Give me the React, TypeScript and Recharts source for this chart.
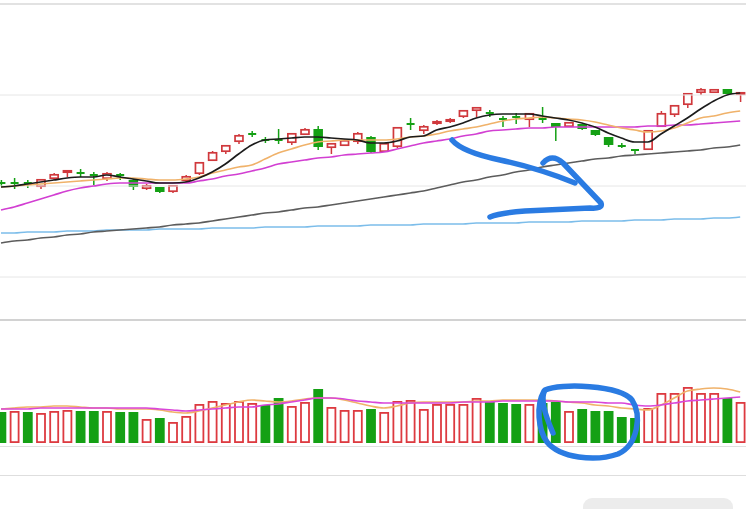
import React from "react";
import { ComposedChart, Bar, Line, XAxis, YAxis, ReferenceLine } from "recharts";

// ---- data (price units, index = trading day) ----
const open = [21.7,21.7,21.7,21.3,22.1,22.7,22.7,22.5,22.1,22.5,22.0,21.1,21.3,20.8,21.9,22.6,23.9,24.8,25.8,26.6,26.0,26.0,25.7,26.5,27.1,25.2,25.4,25.8,26.3,24.8,25.3,27.6,26.9,27.6,27.8,28.3,28.9,28.7,28.1,28.3,28.0,28.1,27.7,27.3,27.6,27.0,26.3,25.4,25.0,25.0,27.3,28.5,29.5,30.7,30.7,31.1,30.5];
const close = [21.7,21.7,21.7,22.1,22.6,23.0,22.7,22.5,22.7,22.5,21.3,21.5,20.8,21.5,22.4,23.8,24.8,25.5,26.5,26.6,26.0,26.0,26.7,27.1,25.3,25.7,26.0,26.7,24.8,25.7,27.3,27.6,27.4,27.9,28.1,29.0,29.3,28.7,28.1,28.3,28.7,28.1,27.3,27.8,27.1,26.5,25.5,25.4,25.0,27.0,28.7,29.5,30.7,31.1,31.1,30.6,30.8];
const high = [22.0,22.2,22.0,22.1,22.7,23.0,23.1,22.8,22.8,22.7,22.1,21.6,21.3,21.5,22.5,23.8,24.9,25.5,26.6,26.9,26.3,27.1,26.7,27.2,27.4,25.7,26.1,26.8,26.4,25.7,27.3,28.2,27.5,28.0,28.2,29.0,29.3,29.0,28.4,28.7,28.7,29.3,27.7,27.8,27.6,27.0,26.3,25.7,25.0,27.0,28.9,29.5,30.7,31.2,31.1,31.1,30.8];
const low = [21.4,21.1,21.2,21.1,22.0,22.3,22.3,21.5,21.9,22.0,21.0,21.0,20.7,20.7,21.8,22.5,23.9,24.6,25.6,26.3,25.7,25.6,25.5,26.5,25.0,24.6,25.4,25.6,24.7,24.8,25.2,27.0,26.6,27.5,27.7,28.2,28.3,28.3,27.3,27.6,27.3,27.7,25.9,27.3,27.0,26.4,25.3,25.2,24.6,25.0,27.3,28.3,29.2,30.5,30.7,30.6,29.8];

const ma5 = [21.3,21.4,21.6,21.8,22.0,22.2,22.3,22.3,22.5,22.3,22.1,21.9,21.7,21.7,21.8,22.2,22.8,23.6,24.6,25.5,26.0,26.1,26.2,26.3,26.3,26.2,26.1,26.0,25.7,25.7,25.9,26.3,26.4,27.0,27.3,27.7,28.2,28.5,28.6,28.6,28.6,28.4,28.2,28.0,27.7,27.3,26.7,26.2,25.8,25.8,26.6,27.4,28.2,29.1,29.9,30.5,30.7];
const ma10 = [21.3,21.4,21.5,21.6,21.7,21.8,21.9,22.0,22.1,22.2,22.2,22.1,22.0,22.0,22.1,22.3,22.7,23.0,23.3,23.5,24.1,24.7,25.1,25.5,25.8,25.9,26.0,26.0,26.0,26.0,26.1,26.3,26.4,26.6,26.9,27.1,27.3,27.6,27.9,28.1,28.2,28.3,28.2,28.1,28.0,27.8,27.5,27.2,27.0,26.8,26.9,27.2,27.7,28.2,28.4,28.7,28.9];
const ma20 = [19.0,19.3,19.7,20.1,20.5,20.9,21.2,21.4,21.6,21.7,21.7,21.7,21.7,21.7,21.7,21.9,22.1,22.4,22.6,22.9,23.2,23.6,23.8,24.0,24.2,24.3,24.5,24.6,24.7,24.8,25.1,25.4,25.7,25.9,26.1,26.4,26.6,26.9,27.0,27.1,27.2,27.2,27.3,27.3,27.3,27.3,27.3,27.3,27.3,27.4,27.4,27.5,27.5,27.6,27.7,27.8,27.9];
const ma60 = [15.7,15.9,16.0,16.2,16.3,16.5,16.6,16.8,16.9,17.0,17.1,17.2,17.3,17.5,17.6,17.7,17.9,18.1,18.3,18.5,18.7,18.8,19.0,19.2,19.3,19.5,19.7,19.9,20.1,20.3,20.5,20.7,20.9,21.2,21.5,21.8,22.0,22.3,22.5,22.8,23.0,23.3,23.5,23.7,23.9,24.1,24.2,24.4,24.5,24.6,24.7,24.8,24.9,25.0,25.2,25.3,25.5];
const ma120 = [16.7,16.7,16.8,16.8,16.8,16.9,16.9,16.9,17.0,17.0,17.0,17.0,17.1,17.1,17.1,17.1,17.2,17.2,17.2,17.2,17.3,17.3,17.3,17.3,17.4,17.4,17.4,17.4,17.5,17.5,17.5,17.5,17.6,17.6,17.6,17.6,17.7,17.7,17.7,17.7,17.8,17.8,17.8,17.8,17.9,17.9,17.9,17.9,18.0,18.0,18.0,18.1,18.1,18.1,18.2,18.2,18.3];

const volume = [31,32,31,30,32,33,32,32,32,31,31,24,25,21,27,39,42,40,42,40,38,45,37,41,54,36,33,33,34,31,42,43,34,39,39,39,45,41,40,39,39,40,41,32,34,32,32,26,25,35,50,50,56,50,50,45,41];
const volUp = [0,1,0,1,1,1,0,0,1,0,0,1,0,1,1,1,1,1,1,1,0,0,1,1,0,1,1,1,0,1,1,1,1,1,1,1,1,0,0,0,1,0,0,1,0,0,0,0,0,1,1,1,1,1,1,0,1];
const volMa5 = [34,35,36,36,37,37,36,35,35,34,34,34,33,31,30,32,35,38,41,43,42,41,42,44,45,45,43,40,37,35,37,40,41,41,41,41,42,42,43,43,43,43,42,41,40,38,37,35,34,33,38,45,52,54,55,54,51];
const volMa10 = [34,34,34,35,35,35,35,35,35,35,35,35,34,33,32,33,34,35,36,36,38,39,41,43,45,45,44,42,41,40,40,40,40,40,40,41,41,41,42,42,42,42,42,41,41,41,40,40,38,37,38,40,42,43,44,45,46];

const priceGrid = [39.6, 30.5, 21.4, 12.3];

const rows = open.map((o, i) => ({
  i,
  o,
  c: close[i],
  h: high[i],
  l: low[i],
  range: [low[i], high[i]],
  ma5: ma5[i],
  ma10: ma10[i],
  ma20: ma20[i],
  ma60: ma60[i],
  ma120: ma120[i],
  vol: volume[i],
  up: volUp[i] === 1,
  vma5: volMa5[i],
  vma10: volMa10[i],
}));

// ---- styles ----
const RED = "#d0383c";
const VRED = "#dd3a40";
const GREEN = "#14a014";
const X_DOMAIN: [number, number] = [-0.0758, 56.44];

function Candle(props: any) {
  const { x, y, width, height, payload } = props;
  if (x == null || y == null || !payload) return null;
  const top = height < 0 ? y + height : y;
  const hh = Math.abs(height);
  const { o, c, h, l } = payload;
  const k = hh / (h - l);
  const py = (v: number) => top + (h - v) * k;
  const cx = x + width / 2;
  const up = c > o;
  const col = up ? RED : GREEN;
  const yo = py(o);
  const yc = py(c);
  const bt = Math.min(yo, yc);
  const bb = Math.max(yo, yc);
  const half = 4.75;
  if (bb - bt < 1.5) {
    return (
      <g>
        <line x1={cx} x2={cx} y1={top} y2={top + hh} stroke={col} strokeWidth={1.5} />
        <line x1={cx - 4} x2={cx + 4} y1={yo} y2={yo} stroke={col} strokeWidth={2} />
      </g>
    );
  }
  if (up) {
    return (
      <g>
        <line x1={cx} x2={cx} y1={top} y2={bt} stroke={col} strokeWidth={1.5} />
        <line x1={cx} x2={cx} y1={bb} y2={top + hh} stroke={col} strokeWidth={1.5} />
        <rect x={cx - half + 0.8} y={bt + 0.8} width={2 * half - 1.6} height={Math.max(bb - bt - 1.6, 0.5)} fill="#fff" stroke={col} strokeWidth={1.7} />
      </g>
    );
  }
  return (
    <g>
      <line x1={cx} x2={cx} y1={top} y2={top + hh} stroke={col} strokeWidth={1.5} />
      <rect x={cx - half} y={bt} width={2 * half} height={bb - bt} fill={col} />
    </g>
  );
}

function VolBar(props: any) {
  const { x, y, width, height, payload } = props;
  if (x == null || y == null || !payload) return null;
  const cx = x + width / 2;
  const w = 9.8;
  if (payload.up) {
    return (
      <rect x={cx - w / 2 + 0.9} y={y + 0.9} width={w - 1.8} height={Math.max(height - 1.8, 0)} fill="#fff" stroke={VRED} strokeWidth={1.8} />
    );
  }
  return <rect x={cx - w / 2} y={y} width={w} height={height} fill={GREEN} />;
}

const lineProps = { type: "monotone" as const, strokeWidth: 1.7, dot: false, activeDot: false, isAnimationActive: false };

export default function App() {
  return (
    <div style={{ position: "absolute", left: 0, top: 0, width: 746, height: 509, background: "#fff", overflow: "hidden" }}>
      <div style={{ position: "absolute", left: 0, top: 0 }}>
        <ComposedChart width={746} height={320} data={rows} margin={{ top: 0, right: 0, bottom: 0, left: 0 }}>
          <XAxis type="number" dataKey="i" domain={X_DOMAIN} hide />
          <YAxis type="number" domain={[8, 40]} hide />
          {priceGrid.map((v, k) => (
            <ReferenceLine key={v} y={v} stroke={k === 0 ? "#d8d8d8" : "#e6e6e6"} strokeWidth={k === 0 ? 1.6 : 1} />
          ))}
          <Bar dataKey="range" barSize={10} shape={<Candle />} isAnimationActive={false} />
          <Line {...lineProps} dataKey="ma120" stroke="#7cbdea" />
          <Line {...lineProps} dataKey="ma60" stroke="#5c5c5c" />
          <Line {...lineProps} dataKey="ma20" stroke="#d23fd2" />
          <Line {...lineProps} dataKey="ma10" stroke="#f0b26a" />
          <Line {...lineProps} dataKey="ma5" stroke="#1c1c1c" />
        </ComposedChart>
      </div>
      <div style={{ position: "absolute", left: 0, top: 319, width: 746, height: 2, background: "#d2d2d2" }} />
      <div style={{ position: "absolute", left: 0, top: 320 }}>
        <ComposedChart width={746} height={123} data={rows} margin={{ top: 0, right: 0, bottom: 0, left: 0 }}>
          <XAxis type="number" dataKey="i" domain={X_DOMAIN} hide />
          <YAxis type="number" domain={[0, 123]} hide />
          <Bar dataKey="vol" barSize={10} shape={<VolBar />} isAnimationActive={false} />
          <Line {...lineProps} dataKey="vma5" stroke="#f0b26a" />
          <Line {...lineProps} dataKey="vma10" stroke="#d946d9" />
        </ComposedChart>
      </div>
      <div style={{ position: "absolute", left: 0, top: 446, width: 746, height: 1, background: "#e0e0e0" }} />
      <div style={{ position: "absolute", left: 0, top: 475, width: 746, height: 1, background: "#dedede" }} />
      <div style={{ position: "absolute", left: 583, top: 498, width: 150, height: 24, borderRadius: 9, background: "#ececec" }} />
      <svg width={746} height={509} style={{ position: "absolute", left: 0, top: 0, pointerEvents: "none" }}>
        <g fill="none" stroke="#2a7be2" strokeWidth={5.5} strokeLinecap="round" strokeLinejoin="round">
          <path d="M452,140 Q462,152 500,160 T575,183" />
          <path d="M543,163 Q552,153 563,163 L601,203 Q603,209 590,208 L525,211 Q500,213 490,217" />
          <path d="M553,433 C545,415 540,398 545,390 C560,383 620,385 632,400 C642,415 638,445 618,454 C595,462 560,458 547,442 C538,430 536,405 544,391" />
        </g>
      </svg>
    </div>
  );
}
